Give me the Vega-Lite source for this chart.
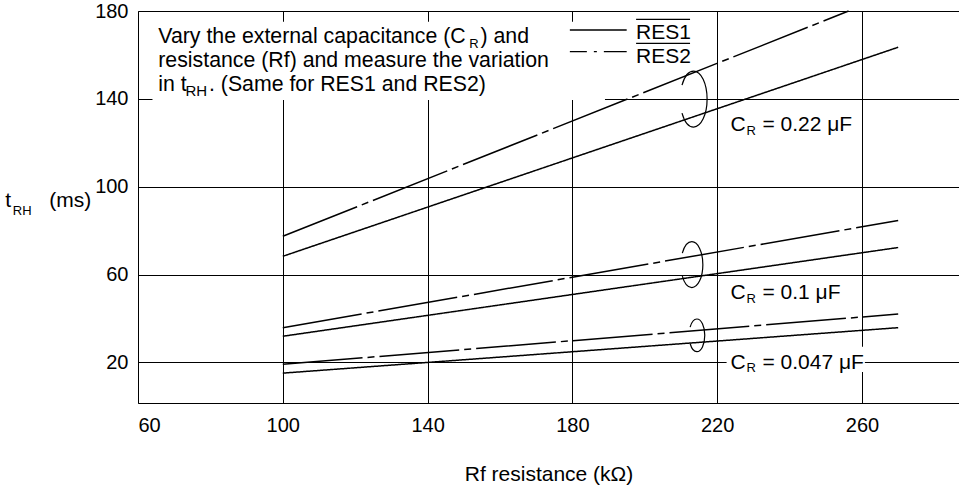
{
  "$schema": "https://vega.github.io/schema/vega-lite/v6.json",
  "width": 821,
  "height": 392,
  "autosize": {"type": "none"},
  "padding": {"left": 138, "top": 11, "right": 0, "bottom": 87},
  "background": "white",
  "config": {"view": {"stroke": null}, "font": "Liberation Sans"},
  "datasets": {
    "curves": [
      {"x": 100, "y": 68.3, "cap": "0.22", "pin": "RES1"}, {"x": 270, "y": 163.5, "cap": "0.22", "pin": "RES1"},
      {"x": 100, "y": 77.4, "cap": "0.22", "pin": "RES2"}, {"x": 256.3, "y": 180, "cap": "0.22", "pin": "RES2"},
      {"x": 100, "y": 31.9, "cap": "0.1", "pin": "RES1"}, {"x": 270, "y": 72.3, "cap": "0.1", "pin": "RES1"},
      {"x": 100, "y": 35.8, "cap": "0.1", "pin": "RES2"}, {"x": 270, "y": 84.6, "cap": "0.1", "pin": "RES2"},
      {"x": 100, "y": 15.1, "cap": "0.047", "pin": "RES1"}, {"x": 270, "y": 35.8, "cap": "0.047", "pin": "RES1"},
      {"x": 100, "y": 19.1, "cap": "0.047", "pin": "RES2"}, {"x": 270, "y": 42, "cap": "0.047", "pin": "RES2"}
    ],
    "masks": [
      {"x": 64, "x2": 189, "y": 175.1, "y2": 139.5},
      {"x": 222.6, "x2": 260.8, "y": 27.1, "y2": 15.6}
    ],
    "legendLines": [
      {"x": 179.3, "x2": 195, "y": 171.35, "pin": "RES1"},
      {"x": 179.3, "x2": 195, "y": 161.5, "pin": "RES2"}
    ],
    "overlines": [
      {"x": 197.6, "x2": 212.5, "y": 176.2},
      {"x": 197.6, "x2": 212.5, "y": 165.3}
    ],
    "ellipses": [
      {"x": 213.5, "y": 139.9, "cap": "0.22"},
      {"x": 213.0, "y": 64.5, "cap": "0.1"},
      {"x": 214.4, "y": 32.3, "cap": "0.047"}
    ],
    "noteText": [
      {"x": 65.6, "y": 165.3, "text": "Vary the external capacitance (C"},
      {"x": 154.6, "y": 165.3, "text": ") and"},
      {"x": 65.6, "y": 154.6, "text": "resistance (Rf) and measure the variation"},
      {"x": 65.6, "y": 143.6, "text": "in t"},
      {"x": 79.6, "y": 143.6, "text": ". (Same for RES1 and RES2)"}
    ],
    "mainText": [
      {"x": 197.6, "y": 167.1, "text": "RES1"},
      {"x": 197.6, "y": 156.5, "text": "RES2"},
      {"x": 223.7, "y": 125.5, "text": "C"},
      {"x": 232.5, "y": 125.5, "text": "= 0.22 μF"},
      {"x": 223.7, "y": 48.7, "text": "C"},
      {"x": 232.5, "y": 48.7, "text": "= 0.1 μF"},
      {"x": 223.7, "y": 17.1, "text": "C"},
      {"x": 232.5, "y": 17.1, "text": "= 0.047 μF"},
      {"x": 23.3, "y": 90.9, "text": "t"},
      {"x": 35.5, "y": 90.9, "text": "(ms)"}
    ],
    "subLarge": [
      {"x": 73.1, "y": 141.3, "text": "RH"}
    ],
    "subText": [
      {"x": 151.5, "y": 163.3, "text": "R"},
      {"x": 228.1, "y": 123.5, "text": "R"},
      {"x": 228.1, "y": 46.9, "text": "R"},
      {"x": 228.1, "y": 15.8, "text": "R"},
      {"x": 25.4, "y": 87.1, "text": "RH"}
    ]
  },
  "encoding": {
    "x": {
      "field": "x", "type": "quantitative",
      "scale": {"domain": [60, 286.8], "nice": false, "zero": false},
      "axis": {
        "values": [60, 100, 140, 180, 220, 260],
        "grid": true, "gridColor": "black", "gridOpacity": 1, "gridWidth": 1,
        "domainColor": "black", "domainWidth": 1, "ticks": false,
        "labelFontSize": 20, "labelFont": "Liberation Sans", "labelColor": "black",
        "labelPadding": 12, "labelFlush": true,
        "title": "Rf resistance (kΩ)", "titleFontSize": 21, "titleFontWeight": "normal",
        "titleFont": "Liberation Sans", "titleColor": "black",
        "titleY": 77, "titleBaseline": "alphabetic"
      }
    },
    "y": {
      "field": "y", "type": "quantitative",
      "scale": {"domain": [1.5, 180], "nice": false, "zero": false},
      "axis": {
        "values": [20, 60, 100, 140, 180],
        "grid": true, "gridColor": "black", "gridOpacity": 1, "gridWidth": 1,
        "domainColor": "black", "domainWidth": 1, "ticks": false,
        "labelFontSize": 20, "labelFont": "Liberation Sans", "labelColor": "black",
        "labelPadding": 10, "title": null
      }
    }
  },
  "layer": [
    {
      "data": {"name": "masks"},
      "mark": {"type": "rect", "fill": "white", "strokeWidth": 0},
      "encoding": {"x2": {"field": "x2"}, "y2": {"field": "y2"}}
    },
    {
      "data": {"name": "curves"},
      "mark": {"type": "line", "color": "black", "strokeWidth": 1.5},
      "encoding": {
        "detail": {"field": "cap", "type": "nominal"},
        "strokeDash": {"field": "pin", "type": "nominal", "scale": {"domain": ["RES1", "RES2"], "range": [[1, 0], [80, 5, 7, 5]]}, "legend": null}
      }
    },
    {
      "data": {"name": "legendLines"},
      "transform": [{"filter": "datum.pin === 'RES1'"}],
      "mark": {"type": "rule", "color": "black", "strokeWidth": 1.4},
      "encoding": {"x2": {"field": "x2"}}
    },
    {
      "data": {"name": "legendLines"},
      "transform": [{"filter": "datum.pin === 'RES2'"}],
      "mark": {"type": "rule", "color": "black", "strokeWidth": 1.4, "strokeDash": [17, 7, 3, 7, 30]},
      "encoding": {"x2": {"field": "x2"}}
    },
    {
      "data": {"name": "overlines"},
      "mark": {"type": "rule", "color": "black", "strokeWidth": 1.3},
      "encoding": {"x2": {"field": "x2"}}
    },
    {
      "data": {"name": "ellipses"},
      "mark": {
        "type": "point", "filled": false, "color": "black", "strokeWidth": 1.2, "opacity": 1,
        "shape": "M-0.4157,-0.5C-0.33,-0.8094,-0.1715,-1,0,-1C0.2651,-1,0.48,-0.5523,0.48,0C0.48,0.5523,0.2651,1,0,1C-0.1715,1,-0.33,0.8094,-0.4157,0.5"
      },
      "encoding": {
        "size": {"field": "cap", "type": "ordinal", "scale": {"domain": ["0.047", "0.1", "0.22"], "range": [1069, 3136, 4356]}, "legend": null}
      }
    },
    {
      "data": {"name": "noteText"},
      "mark": {"type": "text", "align": "left", "baseline": "alphabetic", "fontSize": 21.3, "font": "Liberation Sans", "fill": "black"},
      "encoding": {"text": {"field": "text"}}
    },
    {
      "data": {"name": "mainText"},
      "mark": {"type": "text", "align": "left", "baseline": "alphabetic", "fontSize": 21, "font": "Liberation Sans", "fill": "black"},
      "encoding": {"text": {"field": "text"}}
    },
    {
      "data": {"name": "subLarge"},
      "mark": {"type": "text", "align": "left", "baseline": "alphabetic", "fontSize": 15, "font": "Liberation Sans", "fill": "black"},
      "encoding": {"text": {"field": "text"}}
    },
    {
      "data": {"name": "subText"},
      "mark": {"type": "text", "align": "left", "baseline": "alphabetic", "fontSize": 13, "font": "Liberation Sans", "fill": "black"},
      "encoding": {"text": {"field": "text"}}
    }
  ]
}
